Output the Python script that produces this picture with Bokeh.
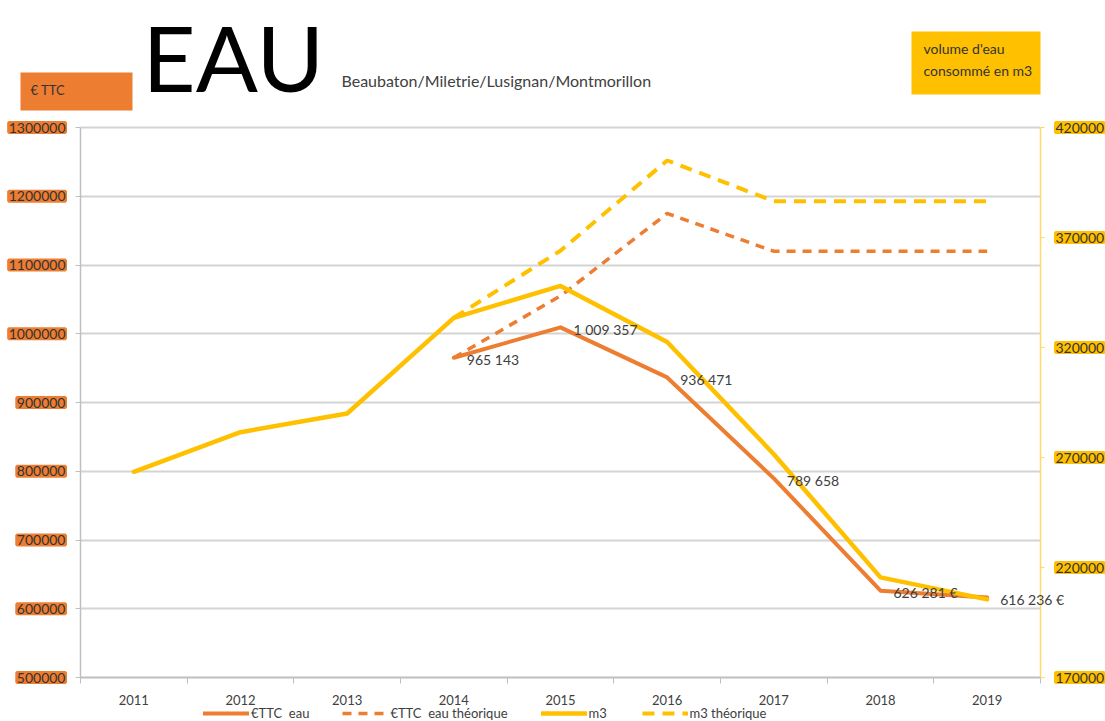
from bokeh.plotting import figure
from bokeh.models import (Range1d, LinearAxis, FixedTicker, ColumnDataSource, LabelSet,
                          Label, Legend, LegendItem, BoxAnnotation, CustomJSTickFormatter, Grid)
from bokeh.core.properties import value
from bokeh.embed import file_html
from bokeh.resources import INLINE

# ---------------- data ----------------
years = [2011, 2012, 2013, 2014, 2015, 2016, 2017, 2018, 2019]
ttc_years = [2014, 2015, 2016, 2017, 2018, 2019]
ttc_eau = [965143, 1009357, 936471, 789658, 626281, 616236]
ttc_eau_theorique = [965143, 1055000, 1175000, 1120000, 1120000, 1120000]
m3 = [263500, 281500, 290000, 333500, 348000, 322500, 271500, 215500, 205500]
m3_theo_years = [2014, 2015, 2016, 2017, 2018, 2019]
m3_theorique = [333500, 364000, 405000, 386500, 386500, 386500]
ttc_labels = ["965 143", "1 009 357", "936 471", "789 658", "626 281 €", "616 236 €"]
left_ticks = [500000, 600000, 700000, 800000, 900000, 1000000, 1100000, 1200000, 1300000]
right_ticks = [170000, 220000, 270000, 320000, 370000, 420000]
legend_labels = ["€TTC  eau", "€TTC  eau théorique", "m3", "m3 théorique"]
title = "EAU"
subtitle = "Beaubaton/Miletrie/Lusignan/Montmorillon"
left_title = "€ TTC"
right_title = ["volume d'eau", "consommé en m3"]

ORANGE = "#ED7D31"
YELLOW = "#FFC000"
TXT = "#404040"
FONT = "Lato"

# ---------------- geometry (canvas pixels) ----------------
CW, CH = 1105, 721
PL, PR, PT, PB = 80, 1040, 127, 677          # plot area inside the canvas
x_lo, x_hi = years[0] - 0.5, years[-1] + 0.5
y_lo, y_hi = left_ticks[0], left_ticks[-1]
r_lo, r_hi = right_ticks[0], right_ticks[-1]

xs = (x_hi - x_lo) / (PR - PL)
ys = (y_hi - y_lo) / (PB - PT)
rs = (r_hi - r_lo) / (PB - PT)


def px_x(px):
    return x_lo + (px - PL) * xs


def px_y(py):
    return y_lo + (PB - py) * ys


p = figure(width=CW, height=CH, min_border=0, min_border_left=0, min_border_right=0,
           min_border_top=0, min_border_bottom=0,
           x_range=Range1d(px_x(0), px_x(CW)), y_range=Range1d(px_y(CH), px_y(0)),
           output_backend="svg", toolbar_location=None, tools="")
p.extra_y_ranges = {"right": Range1d(r_lo - (CH - PB) * rs, r_hi + PT * rs)}
p.title.visible = False
p.outline_line_color = None
p.xgrid.visible = False

empty = CustomJSTickFormatter(code="return ''")

# x axis
boundaries = [y - 0.5 for y in years] + [years[-1] + 0.5]
xa = p.xaxis[0]
xa.fixed_location = y_lo
xa.bounds = (x_lo, x_hi)
xa.ticker = FixedTicker(ticks=years, minor_ticks=boundaries)
xa.major_tick_out = 0
xa.major_tick_in = 0
xa.minor_tick_out = 6
xa.minor_tick_in = 0
xa.minor_tick_line_color = "#BFBFBF"
xa.axis_line_color = "#BFBFBF"
xa.axis_line_width = 1.5
xa.major_label_standoff = 11
xa.major_label_text_font = FONT
xa.major_label_text_font_size = "13px"
xa.major_label_text_color = TXT

# left axis
ya = p.yaxis[0]
ya.fixed_location = x_lo
ya.bounds = (y_lo, y_hi)
ya.ticker = FixedTicker(ticks=left_ticks)
ya.formatter = empty
ya.axis_line_color = "#BFBFBF"
ya.axis_line_width = 1.5
ya.major_tick_out = 5
ya.major_tick_in = 0
ya.major_tick_line_color = "#BFBFBF"
ya.minor_tick_line_color = None

# right axis
ra = LinearAxis(y_range_name="right", ticker=FixedTicker(ticks=right_ticks),
                formatter=CustomJSTickFormatter(code="return ''"),
                fixed_location=x_hi, bounds=(r_lo, r_hi))
ra.axis_line_color = "#FFD966"
ra.axis_line_width = 1.5
ra.major_tick_out = 4
ra.major_tick_in = 0
ra.major_tick_line_color = "#FFD966"
ra.minor_tick_line_color = None
p.add_layout(ra, "right")

# horizontal grid limited to the plot area
if "cross_bounds" in Grid.properties():
    p.ygrid.cross_bounds = (x_lo, x_hi)
    p.ygrid.bounds = (y_lo, y_hi)
    p.ygrid.grid_line_color = "#D4D4D4"
    p.ygrid.grid_line_width = 2
else:
    p.ygrid.visible = False
    p.segment(x0=x_lo, x1=x_hi, y0=left_ticks, y1=left_ticks,
              line_color="#D4D4D4", line_width=2, level="underlay")

# tick labels with coloured backgrounds
lsrc = ColumnDataSource(dict(x=[x_lo] * len(left_ticks), y=left_ticks,
                             text=[str(v) for v in left_ticks]))
p.add_layout(LabelSet(x="x", y="y", text="text", source=lsrc, x_offset=-15,
                      text_align="right", text_baseline="middle",
                      text_font=value(FONT), text_font_size="14px", text_color="#333333",
                      background_fill_color=ORANGE, border_line_color=ORANGE,
                      border_line_width=3))
rsrc = ColumnDataSource(dict(x=[x_hi] * len(right_ticks), y=right_ticks,
                             text=[str(v) for v in right_ticks]))
p.add_layout(LabelSet(x="x", y="y", text="text", source=rsrc, x_offset=15,
                      y_range_name="right", text_align="left", text_baseline="middle",
                      text_font=value(FONT), text_font_size="14px", text_color="#333333",
                      background_fill_color=YELLOW, border_line_color=YELLOW,
                      border_line_width=3))

# lines
r1 = p.line(ttc_years, ttc_eau, line_color=ORANGE, line_width=4,
            line_join="round", line_cap="round")
r2 = p.line(ttc_years, ttc_eau_theorique, line_color=ORANGE, line_width=3.5, line_dash="9 7")
r3 = p.line(years, m3, y_range_name="right", line_color=YELLOW, line_width=4.5,
            line_join="round", line_cap="round")
r4 = p.line(m3_theo_years, m3_theorique, y_range_name="right", line_color=YELLOW,
            line_width=4, line_dash="12 8")

# data labels
src = ColumnDataSource(dict(x=ttc_years, y=ttc_eau, text=ttc_labels))
p.add_layout(LabelSet(x="x", y="y", text="text", source=src, x_offset=13, y_offset=-2,
                      text_baseline="middle", text_align="left",
                      text_font=value(FONT), text_font_size="14px", text_color=TXT))

# header: boxes and titles
p.add_layout(BoxAnnotation(left=px_x(20), right=px_x(132), top=px_y(72), bottom=px_y(110),
                           fill_color=ORANGE, fill_alpha=1, line_color=None))
p.add_layout(BoxAnnotation(left=px_x(911), right=px_x(1040), top=px_y(31), bottom=px_y(94),
                           fill_color=YELLOW, fill_alpha=1, line_color=None))
p.add_layout(Label(x=px_x(30), y=px_y(89), text=left_title, text_baseline="middle",
                   text_font=FONT, text_font_size="13px", text_color="#333333"))
p.add_layout(Label(x=px_x(923), y=px_y(48), text=right_title[0], text_baseline="middle",
                   text_font=FONT, text_font_size="14px", text_color="#333333"))
p.add_layout(Label(x=px_x(923), y=px_y(70), text=right_title[1], text_baseline="middle",
                   text_font=FONT, text_font_size="14px", text_color="#333333"))
p.add_layout(Label(x=px_x(142), y=px_y(56), text=title, text_baseline="middle",
                   text_font=FONT, text_font_size="92px", text_color="black"))
p.add_layout(Label(x=px_x(341), y=px_y(80), text=subtitle, text_baseline="middle",
                   text_font=FONT, text_font_size="16px", text_color=TXT))

# legend
legend = Legend(items=[LegendItem(label=legend_labels[0], renderers=[r1]),
                       LegendItem(label=legend_labels[1], renderers=[r2]),
                       LegendItem(label=legend_labels[2], renderers=[r3]),
                       LegendItem(label=legend_labels[3], renderers=[r4])],
                orientation="horizontal", location=(203, 0), padding=0, margin=0,
                spacing=33, glyph_width=46, glyph_height=14, label_height=14,
                label_standoff=2, border_line_color=None, background_fill_alpha=0,
                label_text_font=FONT, label_text_font_size="13px", label_text_color=TXT)
p.add_layout(legend)

open("out.html", "w").write(file_html(p, INLINE))
